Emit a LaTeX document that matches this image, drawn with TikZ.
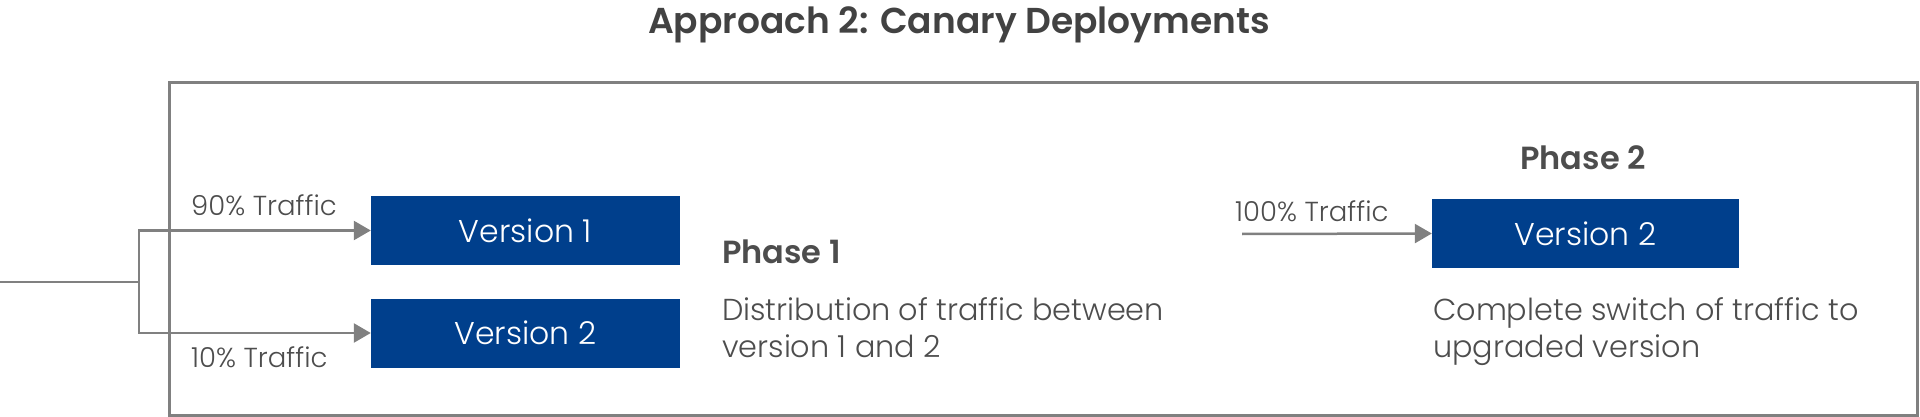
\documentclass[tikz,border=0pt]{standalone}
\usepackage{fontspec}
\setmainfont{Poppins}[UprightFont=* Light, BoldFont=* SemiBold]
\usetikzlibrary{arrows.meta}

\definecolor{boxblue}{HTML}{003F8C}
\definecolor{linegray}{HTML}{808080}
\definecolor{textgray}{HTML}{4D4D4D}
\definecolor{titlegray}{HTML}{424242}

\tikzset{
  verbox/.style={fill=boxblue, inner sep=0pt, minimum height=69pt,
    text=white, font=\fontsize{31.5}{38}\selectfont},
  flow/.style={draw=linegray, line width=2.5pt, -{Triangle[length=17pt,width=19pt]}},
  pct/.style={text=textgray, inner sep=0pt, anchor=base west, font=\fontsize{27.5}{32}\selectfont},
  phase/.style={text=textgray, inner sep=0pt, font=\fontsize{32}{38}\bfseries\selectfont},
  note/.style={text=textgray, inner sep=0pt, anchor=north west, align=left,
    font=\fontsize{30.3}{37}\selectfont},
}

\begin{document}
\begin{tikzpicture}[x=1pt, y=-1pt]
\useasboundingbox (0,0) rectangle (1920,417);

% title and frame
\node[text=titlegray, inner sep=0pt, anchor=base, font=\fontsize{36}{44}\bfseries\selectfont] (title) at (959, 34){Approach 2: Canary Deployments};
\draw[linegray, line width=3pt] (169, 83) rectangle (1917, 415);

% phase 1
\node[verbox, minimum width=309pt] (v1) at (525.5, 230.5){Version 1};
\node[verbox, minimum width=309pt] (v2) at (525.5, 333){Version 2};
\coordinate (in) at (0, 282);
\coordinate (split) at (139, 282);
\draw[linegray, line width=2.5pt] (in) -- (split);
\draw[flow] (split) |- (v1.west);
\draw[flow] (split) |- (v2.west);
\node[pct] (p90) at (191, 215){90\% Traffic};
\node[pct] (p10) at (191, 367){10\% Traffic};
\node[phase, anchor=base west] (ph1) at (722, 263){Phase 1};
\node[note] (d1) at (722, 297){Distribution of traffic between\\version 1 and 2};

% phase 2
\node[verbox, minimum width=307pt] (v2b) at (1585.5, 233.5){Version 2};
\coordinate (src) at (1242, 234);
\draw[flow] (src) -- (v2b.west);
\node[pct] (p100) at (1235, 221){100\% Traffic};
\node[phase, anchor=base] (ph2) at (1583, 169){Phase 2};
\node[note] (d2) at (1433, 297){Complete switch of traffic to\\upgraded version};
\end{tikzpicture}
\end{document}
